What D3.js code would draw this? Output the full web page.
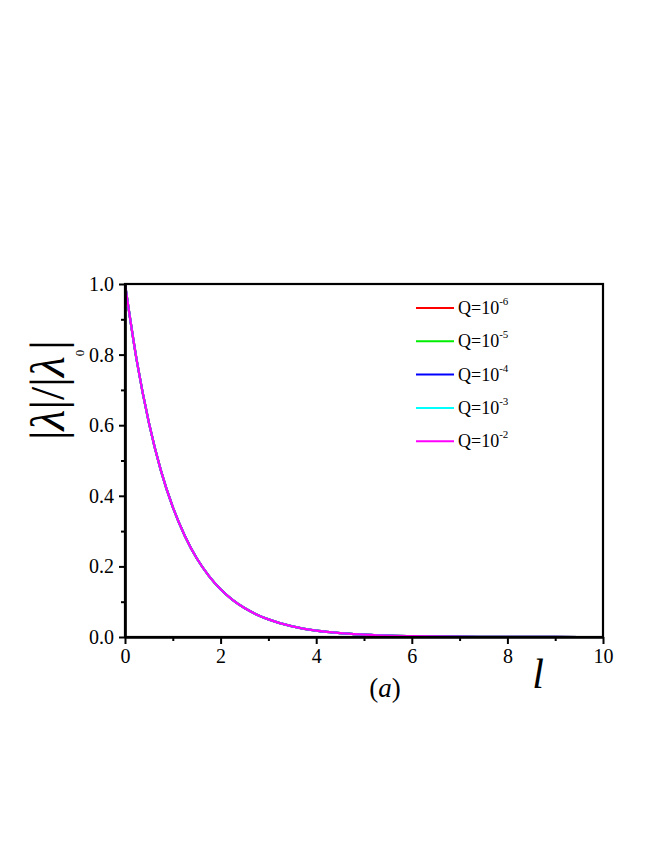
<!DOCTYPE html>
<html>
<head>
<meta charset="utf-8">
<script src="https://cdn.jsdelivr.net/npm/d3@7"></script>
<style>
  body { margin: 0; background: #fff; }
  svg { display: block; font-family: "Liberation Serif", "Times New Roman", serif; }
</style>
</head>
<body>
<div id="chart"></div>
<script>
// VALUES
const lValues = [0, 0.25, 0.5, 0.75, 1, 1.25, 1.5, 1.75, 2, 2.25, 2.5, 2.75, 3, 3.5, 4, 4.5, 5, 5.5, 6, 7, 8, 9, 10];
const ratioValues = [1.0, 0.78, 0.607, 0.472, 0.368, 0.287, 0.223, 0.174, 0.135, 0.105, 0.082, 0.064, 0.05, 0.03, 0.018, 0.011, 0.007, 0.004, 0.0025, 0.001, 0.0003, 0.0001, 0.00005];
const qExponents = ["-6", "-5", "-4", "-3", "-2"];
const qColors = ["#ff0000", "#00ee00", "#0000ff", "#00ffff", "#ff00ff"];
const xTicks = [0, 2, 4, 6, 8, 10];
const yTicks = [0.0, 0.2, 0.4, 0.6, 0.8, 1.0];

// all five curves lie on top of each other in the picture
const series = qExponents.map((e, k) => ({
    exp: e,
    color: qColors[k],
    points: lValues.map((l, i) => ({ l: l, v: ratioValues[i] }))
}));

const width = 653;
const height = 845;
const margin = { left: 125, right: 50, top: 284, bottom: 208 };

const svg = d3.select("#chart").append("svg")
    .attr("width", width)
    .attr("height", height);

const x = d3.scaleLinear().domain([0, 10]).range([margin.left, width - margin.right]);
const y = d3.scaleLinear().domain([0, 1]).range([height - margin.bottom, margin.top]);

// CURVES
const line = d3.line()
    .x(d => x(d.l))
    .y(d => y(d.v))
    .curve(d3.curveMonotoneX);

svg.append("g").selectAll("path")
    .data(series)
    .join("path")
    .attr("d", d => line(d.points))
    .attr("fill", "none")
    .attr("stroke", d => d.color)
    .attr("stroke-width", 2.2);

// FRAME
svg.append("rect")
    .attr("x", x(0))
    .attr("y", y(1))
    .attr("width", x(10) - x(0))
    .attr("height", y(0) - y(1))
    .attr("fill", "none")
    .attr("stroke", "#000")
    .attr("stroke-width", 2.2);

// AXES (major + minor ticks, pointing outward)
svg.append("g")
    .attr("transform", `translate(0,${y(0)})`)
    .call(d3.axisBottom(x).tickValues(xTicks).tickFormat(d3.format("d")).tickSize(7).tickSizeOuter(0).tickPadding(5));
svg.append("g")
    .attr("transform", `translate(0,${y(0)})`)
    .call(d3.axisBottom(x).tickValues([1, 3, 5, 7, 9]).tickFormat("").tickSize(4).tickSizeOuter(0));

svg.append("g")
    .attr("transform", `translate(${x(0)},0)`)
    .call(d3.axisLeft(y).tickValues(yTicks).tickFormat(d3.format(".1f")).tickSize(6).tickSizeOuter(0).tickPadding(5));
svg.append("g")
    .attr("transform", `translate(${x(0)},0)`)
    .call(d3.axisLeft(y).tickValues([0.1, 0.3, 0.5, 0.7, 0.9]).tickFormat("").tickSize(4).tickSizeOuter(0));

svg.selectAll(".domain").attr("stroke", "#000").attr("stroke-width", 2.2);
svg.selectAll(".tick line").attr("stroke", "#000").attr("stroke-width", 2);
svg.selectAll(".tick text")
    .attr("fill", "#000")
    .style("font-family", "Liberation Serif, Times New Roman, serif")
    .style("font-size", "20px");

// AXIS TITLES
svg.append("text")
    .attr("x", 538)
    .attr("y", 688)
    .attr("text-anchor", "middle")
    .style("font-size", "42px")
    .style("font-style", "italic")
    .text("l");

svg.append("text")
    .attr("x", 385)
    .attr("y", 697)
    .attr("text-anchor", "middle")
    .style("font-size", "27px")
    .html("(<tspan font-style='italic'>a</tspan>)");

const yTitle = svg.append("text")
    .attr("transform", "translate(64,440) rotate(-90)")
    .style("font-size", "48px");
yTitle.append("tspan").text("|");
yTitle.append("tspan").style("font-style", "italic").text("λ");
yTitle.append("tspan").text("|/|");
yTitle.append("tspan").style("font-style", "italic").text("λ");
yTitle.append("tspan").attr("dy", 20).style("font-size", "13px").text("0");
yTitle.append("tspan").attr("dy", -20).text("|");

// LEGEND
const legend = svg.append("g").selectAll("g")
    .data(series)
    .join("g")
    .attr("transform", (d, i) => `translate(416,${308 + i * 33.3})`);

legend.append("line")
    .attr("x1", 0).attr("x2", 38)
    .attr("stroke", d => d.color)
    .attr("stroke-width", 2);

const lt = legend.append("text")
    .attr("x", 42)
    .attr("y", 6)
    .style("font-size", "18px");
lt.append("tspan").text("Q=10");
lt.append("tspan")
    .attr("dy", -9)
    .style("font-size", "11px")
    .text(d => d.exp);
</script>
</body>
</html>
